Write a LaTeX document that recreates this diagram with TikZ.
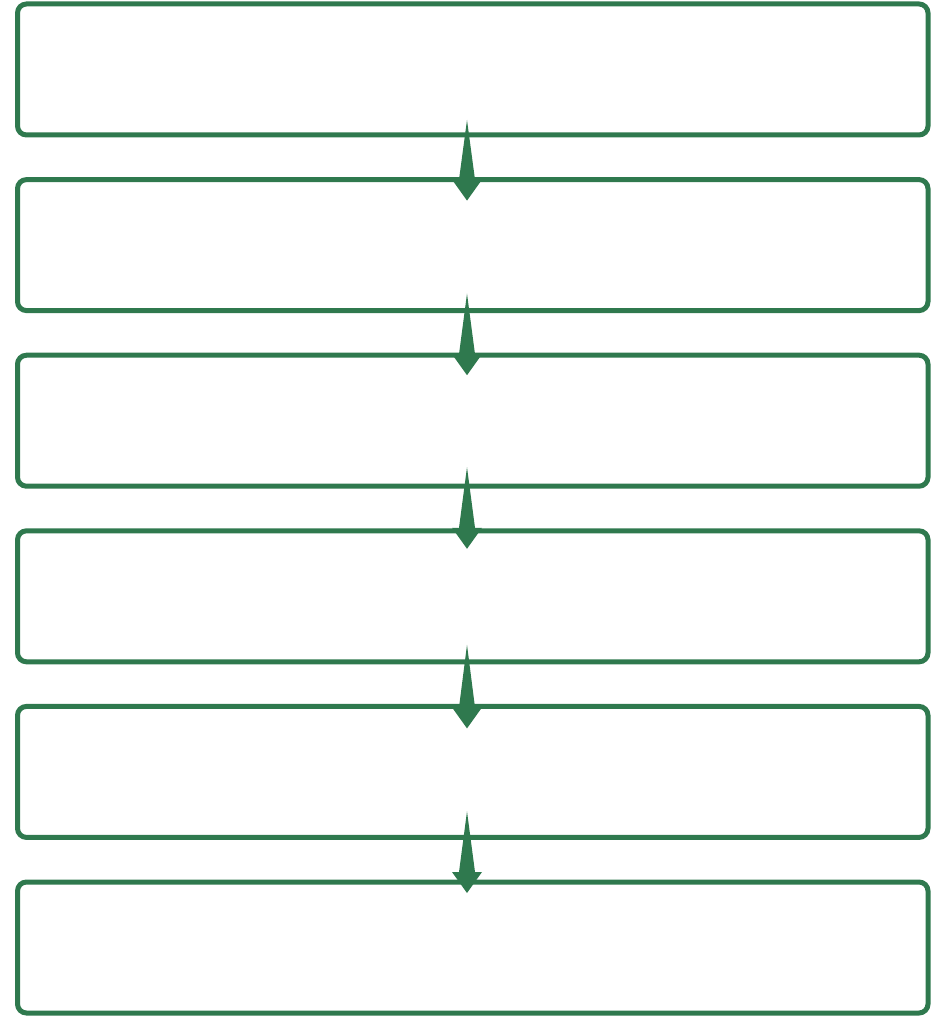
\documentclass[tikz,border=0pt]{standalone}
\usetikzlibrary{positioning, calc}

\definecolor{stepgreen}{RGB}{47,121,78}

% tapered arrow: from node, to node, rise above #1.south, drop below #2.north
\newcommand\flowarrow[4]{%
    \fill[stepgreen] ([xshift=-5.75, yshift=#3]#1.south)
        -- ([xshift=2.25, yshift={#4+21}]#2.north) -- ++(7,0)
        -- ([xshift=-5.75, yshift=#4]#2.north)
        -- ++(-15,21) -- ++(7,0) -- cycle;
}

\begin{document}
\begin{tikzpicture}[
        x=1pt, y=1pt,
        stage/.style={draw=stepgreen, line width=5pt, rounded corners=9pt,
            minimum width=910.5pt, minimum height=131pt, inner sep=0pt, outer sep=0pt},
        node distance=44.6pt
    ]
    \useasboundingbox (0,0) rectangle (939,-1016);

    \node[stage] (S1) at (472.75,-69.5) {};
    \node[stage, below=of S1] (S2) {};
    \node[stage, below=of S2] (S3) {};
    \node[stage, below=of S3] (S4) {};
    \node[stage, below=of S4] (S5) {};
    \node[stage, below=of S5] (S6) {};

    \foreach \a/\b/\up/\down in {S1/S2/15/-21, S2/S3/17/-20, S3/S4/19/-18, S4/S5/17/-22, S5/S6/26/-11}
        \flowarrow{\a}{\b}{\up}{\down};
\end{tikzpicture}
\end{document}
